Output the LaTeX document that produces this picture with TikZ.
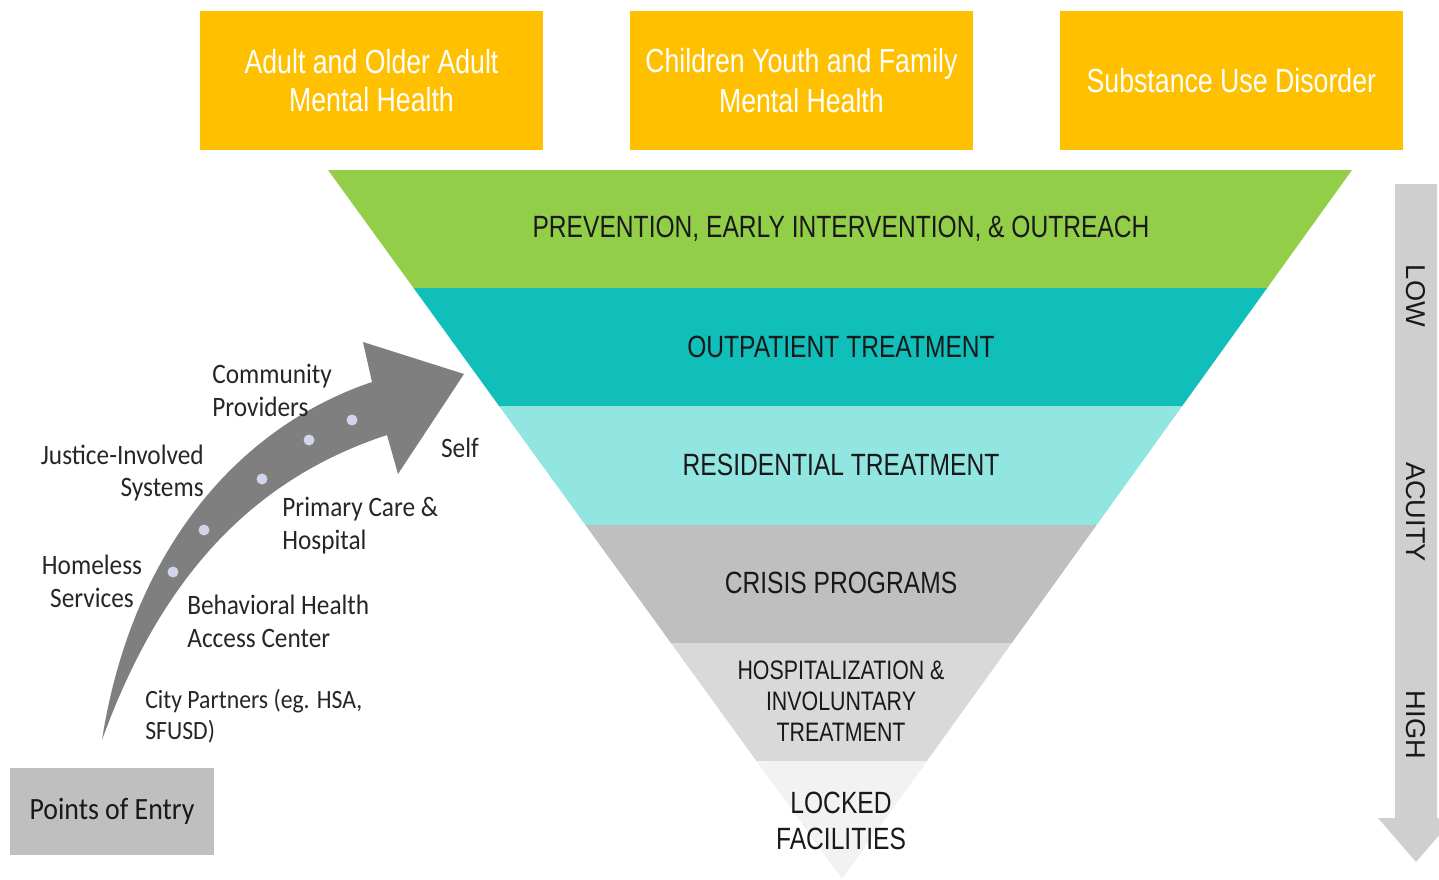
\documentclass[tikz,border=0pt]{standalone}
\usepackage{fontspec}
\setmainfont{Liberation Sans}
\newfontfamily\narrowfont[FakeStretch=0.8]{Liberation Sans}
\newfontfamily\calibrifont[FakeStretch=0.9]{Carlito}
\usetikzlibrary{positioning}

\definecolor{svcorange}{HTML}{FFC000}
\definecolor{lvlgreen}{HTML}{92CE48}
\definecolor{lvlteal}{HTML}{10BEBA}
\definecolor{lvlaqua}{HTML}{92E6E1}
\definecolor{lvlgray}{HTML}{BFBFBF}
\definecolor{lvllight}{HTML}{D9D9D9}
\definecolor{lvlpale}{HTML}{F2F2F2}
\definecolor{entrygray}{HTML}{7F7F7F}
\definecolor{dotblue}{HTML}{D0D5EC}
\definecolor{acuitygray}{HTML}{CFCFCF}

\begin{document}
\begin{tikzpicture}[x=0.02cm,y=-0.02cm,node distance=2.36cm,
    svc box/.style={rectangle,fill=svcorange,text=white,align=center,
      minimum width=6.86cm,minimum height=2.78cm,
      font=\narrowfont\fontsize{19}{21.5}\selectfont},
    level/.style={align=center,text=black!90,font=\narrowfont\fontsize{17.5}{20.4}\selectfont},
    entry/.style={inner sep=0pt,text=black!85,font=\calibrifont\fontsize{16}{18.7}\selectfont},
    acuity/.style={rotate=-90,text=black!90,font=\fontsize{15.5}{18}\selectfont}]

  \useasboundingbox (0,0) rectangle (1439,879);

  % service areas along the top
  \node[svc box] (adult) at (371.5,80.5) {Adult and Older Adult\\Mental Health};
  \node[svc box,right of=adult,node distance=8.6cm,
        font=\narrowfont\fontsize{19}{22.8}\selectfont] (child) {Children Youth and Family\\Mental Health};
  \node[svc box,right of=child,node distance=8.6cm] (sud) {Substance Use Disorder};

  % levels of care, clipped to the funnel
  \begin{scope}
    \clip (328,170) -- (1352,170) -- (842,879) -- cycle;
    \foreach \c [count=\i from 0] in {lvlgreen,lvlteal,lvlaqua,lvlgray,lvllight,lvlpale}
      \fill[\c] (300,{170+118.2*\i}) rectangle (1400,{170+118.2*(\i+1)+0.5});
  \end{scope}

  \node[level] (prev) at (841,229) {PREVENTION, EARLY INTERVENTION, \& OUTREACH};
  \node[level] (outp) [below of=prev] {OUTPATIENT TREATMENT};
  \node[level] (resi) [below of=outp] {RESIDENTIAL TREATMENT};
  \node[level] (crisis) [below of=resi] {CRISIS PROGRAMS};
  \node[level,font=\narrowfont\fontsize{15.2}{17.6}\selectfont] (hosp) [below of=crisis]
    {HOSPITALIZATION \&\\INVOLUNTARY\\TREATMENT};
  \node[level] (locked) [below of=hosp,yshift=-0.04cm] {LOCKED\\FACILITIES};

  % acuity scale
  \fill[acuitygray] (1395,184) -- (1437,184) -- (1437,818) -- (1454,818)
    -- (1416,862) -- (1378,818) -- (1395,818) -- cycle;
  \node[acuity] (low) at (1416,296) {LOW};
  \node[acuity] (acu) at (1416,512) {ACUITY};
  \node[acuity] (high) at (1416,725) {HIGH};

  % points of entry
  \node[rectangle,fill=lvlgray,minimum width=4.08cm,minimum height=1.74cm,
        text=black!90,font=\calibrifont\fontsize{17.6}{20}\selectfont] (poe) at (112,811) {Points of Entry};

  \fill[entrygray] (102,740) .. controls (130,560) and (230,430) .. (372,382)
    -- (363,342) -- (464,374) -- (398,474) -- (387,435)
    .. controls (250,480) and (160,580) .. (102,740) -- cycle;
  \foreach \p in {(173,572),(204,530),(262,479),(309,440),(352,420)}
    \fill[dotblue] \p circle[radius=0.11cm];

  \node[entry,anchor=west,align=left] (comm) at (212,390) {Community\\Providers};
  \node[entry,anchor=east,align=right] (just) at (204,473) {Justice-Involved\\Systems};
  \node[entry,align=center] (home) at (92,581) {Homeless\\Services};
  \node[entry] (self) at (460,448) {Self};
  \node[entry,anchor=west,align=left] (prim) at (282,526) {Primary Care \&\\Hospital};
  \node[entry,anchor=west,align=left] (bhac) at (187,621) {Behavioral Health\\Access Center};
  \node[entry,anchor=west,align=left,font=\calibrifont\fontsize{15}{17.6}\selectfont] (city) at (145,716)
    {City Partners (eg. HSA,\\SFUSD)};
\end{tikzpicture}
\end{document}
